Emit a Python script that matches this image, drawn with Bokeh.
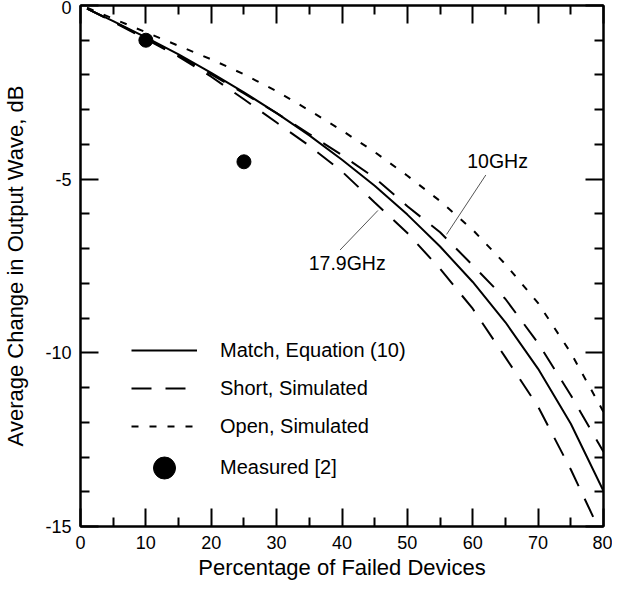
from bokeh.plotting import figure
from bokeh.models import (Range1d, LinearAxis, Legend, LegendItem, FixedTicker,
                          CustomLabelingPolicy)
from bokeh.core.properties import value
from bokeh.embed import file_html
from bokeh.resources import INLINE

# ---- data ----
x_pct = [1, 5, 10, 15, 20, 25, 30, 35, 40, 45, 50, 55, 60, 65, 70, 75, 80]
match_db = [-0.09, -0.45, -0.92, -1.41, -1.94, -2.50, -3.10, -3.74, -4.44, -5.19,
            -6.02, -6.94, -7.96, -9.12, -10.46, -12.04, -13.98]
short_179_db = [-0.09, -0.47, -0.97, -1.47, -2.05, -2.70, -3.37, -4.04, -4.78, -5.67,
                -6.55, -7.58, -8.73, -10.13, -11.55, -13.36, -15.35]
short_10_db = [-0.09, -0.46, -0.95, -1.45, -1.98, -2.53, -3.10, -3.70, -4.31, -4.96,
               -5.78, -6.53, -7.48, -8.45, -9.72, -11.22, -12.85]
open_db = [-0.06, -0.38, -0.77, -1.16, -1.55, -1.98, -2.47, -3.02, -3.60, -4.22,
           -4.90, -5.63, -6.46, -7.45, -8.57, -10.00, -11.70]
meas_x = [10, 25]
meas_db = [-1.0, -4.5]

ann_text = ["10GHz", "17.9GHz"]
ann_x = [63.8, 40.8]
ann_y = [-4.48, -7.41]
lead_x0 = [62.0, 45.5]
lead_y0 = [-4.88, -5.90]
lead_x1 = [56.0, 39.7]
lead_y1 = [-6.59, -7.04]

x_ticks = [0, 10, 20, 30, 40, 50, 60, 70, 80]
x_minor = [5, 15, 25, 35, 45, 55, 65, 75]
y_ticks = [-15, -10, -5, 0]
y_minor = [-14, -13, -12, -11, -9, -8, -7, -6, -4, -3, -2, -1]
y_tick_labels = {-15: "-15", -10: "-10", -5: "-5", 0: "0"}

FONT = "Liberation Sans"

p = figure(width=612, height=582, output_backend="svg", toolbar_location=None,
           x_range=Range1d(0, 80), y_range=Range1d(-15, 0),
           min_border_left=79, min_border_right=9, min_border_top=5, min_border_bottom=53,
           x_axis_label="Percentage of Failed Devices",
           y_axis_label="Average Change in Output Wave, dB")
p.xgrid.visible = False
p.ygrid.visible = False
p.outline_line_color = "black"
p.outline_line_width = 2
p.background_fill_color = "white"
p.border_fill_color = "white"

xt = FixedTicker(ticks=x_ticks, minor_ticks=x_minor)
yt = FixedTicker(ticks=y_ticks, minor_ticks=y_minor)

hide_all = CustomLabelingPolicy(code="""
const arr = [...indices]
for (const i of arr) indices.unset(i)
return indices
""")


def style_axis(ax, labels=True):
    ax.major_tick_in = 18
    ax.major_tick_out = 0
    ax.minor_tick_in = 9
    ax.minor_tick_out = 0
    ax.axis_line_width = 2
    ax.major_tick_line_width = 2
    ax.minor_tick_line_width = 2
    ax.axis_line_color = "black"
    ax.major_tick_line_color = "black"
    ax.minor_tick_line_color = "black"
    ax.major_label_text_font = FONT
    ax.major_label_text_color = "black"
    ax.axis_label_text_font = FONT
    ax.axis_label_text_color = "black"
    ax.axis_label_text_font_style = "normal"
    if not labels:
        ax.major_label_text_font_size = "0px"
        ax.major_label_standoff = 0
        ax.major_label_policy = hide_all


xa = p.xaxis[0]
ya = p.yaxis[0]
xa.ticker = xt
ya.ticker = yt
style_axis(xa)
style_axis(ya)
xa.major_label_text_font_size = "18px"
ya.major_label_text_font_size = "18px"
xa.major_label_standoff = 9
ya.major_label_standoff = 9
xa.axis_label_text_font_size = "22px"
ya.axis_label_text_font_size = "22px"
xa.axis_label_standoff = 3
ya.axis_label_standoff = 14
ya.major_label_overrides = y_tick_labels

top = LinearAxis(ticker=xt)
right = LinearAxis(ticker=yt)
style_axis(top, labels=False)
style_axis(right, labels=False)
p.add_layout(top, "above")
p.add_layout(right, "right")

r_match = p.line(x_pct, match_db, line_color="black", line_width=2)
r_short = p.line(x_pct, short_179_db, line_color="black", line_width=2, line_dash="20 14")
p.line(x_pct, short_10_db, line_color="black", line_width=2, line_dash="20 14")
r_open = p.line(x_pct, open_db, line_color="black", line_width=2, line_dash="7 11")
r_meas = p.scatter(meas_x, meas_db, size=14, color="black")

p.segment(lead_x0, lead_y0, lead_x1, lead_y1, line_color="#555555", line_width=1)
p.text(ann_x, ann_y, text=ann_text, text_font_size="19.5px", text_color="black",
       text_align="center", text_baseline="middle", text_font=value(FONT))

leg1 = Legend(items=[LegendItem(label="Match, Equation (10)", renderers=[r_match]),
                     LegendItem(label="Short, Simulated", renderers=[r_short]),
                     LegendItem(label="Open, Simulated", renderers=[r_open])],
              location=(51, 88), glyph_width=66, glyph_height=24, spacing=14,
              label_standoff=23, padding=0, margin=0,
              border_line_color=None, background_fill_alpha=0,
              label_text_font=FONT, label_text_font_size="20px", label_text_color="black")
leg2 = Legend(items=[LegendItem(label="Measured [2]", renderers=[r_meas])],
              location=(51, 31), glyph_width=66, glyph_height=55, spacing=0,
              label_standoff=23, padding=0, margin=0,
              border_line_color=None, background_fill_alpha=0,
              label_text_font=FONT, label_text_font_size="20px", label_text_color="black")
p.add_layout(leg1)
p.add_layout(leg2)

open("out.html", "w").write(file_html(p, INLINE))
